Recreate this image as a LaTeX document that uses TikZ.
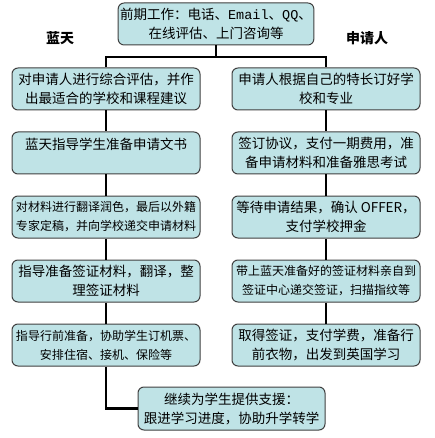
\documentclass[tikz,border=0pt]{standalone}
\usepackage{fontspec}
\setmainfont{Noto Sans CJK SC}
\setmonofont{Liberation Mono}
\usepackage{xcolor}
\definecolor{boxfill}{HTML}{BFE3E6}
\definecolor{boxline}{HTML}{404040}

\begin{document}
\begin{tikzpicture}[x=1pt,y=-1pt,
    stepbox/.style={draw=boxline, line width=1pt, fill=boxfill, rounded corners=6pt,
        minimum width=188pt, minimum height=42pt, inner sep=2pt, align=center,
        font=\fontsize{13.5}{19}\selectfont},
    smallbox/.style={stepbox, font=\fontsize{12}{19}\selectfont},
    link/.style={line width=2.6pt, black}]
			\useasboundingbox (0,0) rectangle (435,438);

			\node [stepbox] (top) at (216,24) {前期工作：电话、\texttt{Email}、\texttt{QQ}、\\在线评估、上门咨询等};
			\node [font=\bfseries\fontsize{14}{16}\selectfont] (lantian) at (60,38) {蓝天};
			\node [font=\bfseries\fontsize{14}{16}\selectfont] (shenqing) at (367,38) {申请人};

			% left column
			\node [stepbox] (l1) at (106,89) {对申请人进行综合评估，并作\\出最适合的学校和课程建议};
			\node [stepbox] (l2) at (106,153) {蓝天指导学生准备申请文书\\\mbox{}};
			\node [smallbox] (l3) at (106,217) {对材料进行翻译润色，最后以外籍\\专家定稿，并向学校递交申请材料};
			\node [stepbox] (l4) at (106,281) {指导准备签证材料，翻译，整\\理签证材料};
			\node [smallbox] (l5) at (106,345) {指导行前准备，协助学生订机票、\\安排住宿、接机、保险等};

			% right column
			\node [stepbox] (r1) at (326,89) {申请人根据自己的特长订好学\\校和专业};
			\node [stepbox] (r2) at (326,153) {签订协议，支付一期费用，准\\备申请材料和准备雅思考试};
			\node [stepbox] (r3) at (326,217) {等待申请结果，确认 OFFER，\\支付学校押金};
			\node [smallbox] (r4) at (326,281) {带上蓝天准备好的签证材料亲自到\\签证中心递交签证，扫描指纹等};
			\node [stepbox] (r5) at (326,345) {取得签证，支付学费，准备行\\前衣物，出发到英国学习};

			\node [stepbox, minimum width=187pt, minimum height=43pt] (bot) at (231.5,408.5) {继续为学生提供支援：\\跟进学习进度，协助升学转学};

			\coordinate (split) at (216,57);
			\draw [link] (top.south) -- (split);
			\draw [link] (l1.north) -- (l1.north |- split) -- (r1.north |- split) -- (r1.north);

			\foreach \a/\b in {1/2,2/3,3/4,4/5} {
				\draw [link] (l\a.south) -- (l\b.north);
				\draw [link] (r\a.south) -- (r\b.north);
			}
			\draw [link] (l5.south) |- (bot.west);
		\end{tikzpicture}
\end{document}
